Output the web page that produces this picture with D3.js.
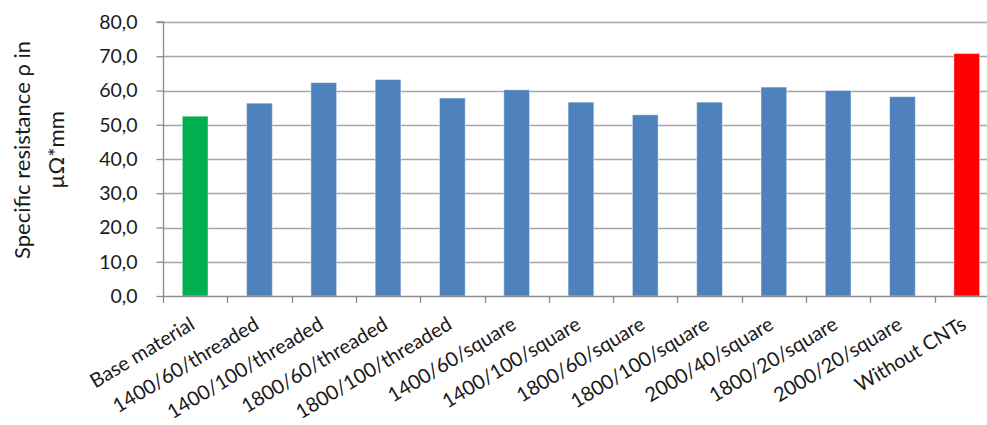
<!DOCTYPE html>
<html>
<head>
<meta charset="utf-8">
<script src="https://cdn.jsdelivr.net/npm/d3@7"></script>
<style>
  html, body { margin: 0; padding: 0; background: #fff; }
  svg { display: block; }
  text { font-family: Lato, "Open Sans", sans-serif; fill: #1a1a1a; }
</style>
</head>
<body>
<svg id="chart" width="987" height="425"></svg>
<script>
// Specific resistance per sample
const categories = [
  "Base material", "1400/60/threaded", "1400/100/threaded", "1800/60/threaded",
  "1800/100/threaded", "1400/60/square", "1400/100/square", "1800/60/square",
  "1800/100/square", "2000/40/square", "1800/20/square", "2000/20/square", "Without CNTs"
];
const values = [52.5, 56.3, 62.3, 63.2, 57.8, 60.2, 56.6, 52.9, 56.6, 61.0, 60.0, 58.2, 70.8];
const barColors = ["#00B050", "#4F81BD", "#4F81BD", "#4F81BD", "#4F81BD", "#4F81BD", "#4F81BD",
  "#4F81BD", "#4F81BD", "#4F81BD", "#4F81BD", "#4F81BD", "#FF0000"];
const yTicks = [0, 10, 20, 30, 40, 50, 60, 70, 80];
const yTitle = ["Specific resistance \u03C1 in", "\u00B5\u03A9*mm"];

const svg = d3.select("#chart");
const left = 163, bandW = 64.3;
const x = d3.scaleBand().domain(categories).range([left, left + bandW * categories.length]).paddingInner(0.6).paddingOuter(0.3);
const y = d3.scaleLinear().domain([0, 80]).range([296, 22]);
const fmt = v => d3.format(".1f")(v).replace(".", ",");

// horizontal gridlines
svg.append("g").selectAll("line").data(yTicks.filter(t => t > 0)).join("line")
  .attr("x1", left).attr("x2", 987)
  .attr("y1", d => Math.round(y(d)) + 0.5).attr("y2", d => Math.round(y(d)) + 0.5)
  .attr("stroke", "#a6a6a6").attr("stroke-width", 1.3);

// bars
svg.append("g").selectAll("rect").data(values).join("rect")
  .attr("x", (d, i) => x(categories[i]))
  .attr("width", x.bandwidth())
  .attr("y", d => y(d))
  .attr("height", d => y(0) - y(d))
  .attr("fill", (d, i) => barColors[i])
  .attr("stroke", "rgba(255,255,255,0.45)")
  .attr("stroke-width", 1);

// y axis
const yAxis = d3.axisLeft(y).tickValues(yTicks).tickFormat(fmt).tickSize(7).tickPadding(19);
const gy = svg.append("g").attr("transform", `translate(${left + 0.5},0)`).call(yAxis);
gy.select(".domain").attr("stroke", "#8c8c8c").attr("stroke-width", 1.3).attr("d", `M-7,${y(80)}H0V${y(0)}`);
gy.selectAll(".tick line").attr("stroke", "#8c8c8c").attr("stroke-width", 1.3);
gy.selectAll(".tick text").style("font-size", "19.5px").attr("fill", "#1a1a1a").attr("font-family", "Lato");

// x axis: ticks on category boundaries
const boundaries = d3.range(categories.length + 1).map(i => left + i * bandW);
const gx = svg.append("g");
gx.append("line").attr("x1", left).attr("x2", 987).attr("y1", y(0) + 0.5).attr("y2", y(0) + 0.5)
  .attr("stroke", "#8c8c8c").attr("stroke-width", 1.3);
gx.selectAll("line.tk").data(boundaries).join("line").attr("class", "tk")
  .attr("x1", d => Math.round(d) + 0.5).attr("x2", d => Math.round(d) + 0.5)
  .attr("y1", y(0)).attr("y2", y(0) + 7)
  .attr("stroke", "#8c8c8c").attr("stroke-width", 1.3);
gx.selectAll("text").data(categories).join("text")
  .attr("transform", d => `translate(${x(d) + x.bandwidth() / 2 + 1},${y(0) + 32}) rotate(-31)`)
  .attr("text-anchor", "end")
  .style("font-size", "20px")
  .text(d => d);

// y axis title (two lines)
const title = svg.append("text")
  .attr("transform", "translate(0,150) rotate(-90)")
  .attr("text-anchor", "middle")
  .style("font-size", "22px");
title.selectAll("tspan").data(yTitle).join("tspan")
  .attr("x", 0).attr("y", (d, i) => 30 + i * 34)
  .text(d => d);
</script>
</body>
</html>
